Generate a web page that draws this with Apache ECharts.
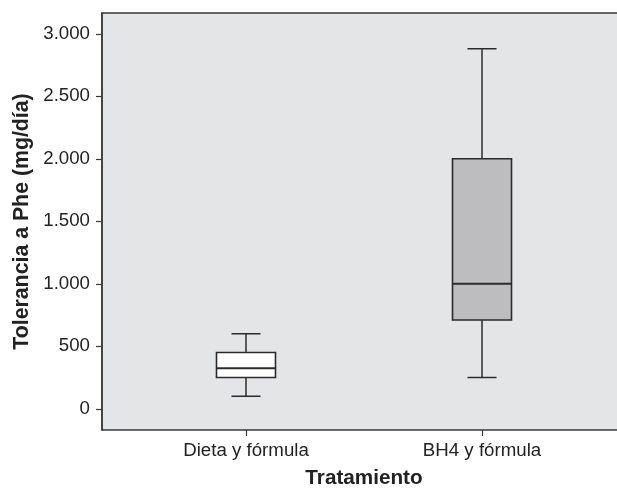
<!DOCTYPE html>
<html>
<head>
<meta charset="utf-8">
<script src="https://cdn.jsdelivr.net/npm/echarts@6/dist/echarts.min.js"></script>
<style>html,body{margin:0;padding:0;background:#fff}#c{width:617px;height:488px}</style>
</head>
<body>
<div id="c"></div>
<script>
// Data
const categories = ['Dieta y fórmula', 'BH4 y fórmula'];
// [min, Q1, median, Q3, max]
const boxMin    = [100, 250];
const boxQ1     = [250, 710];
const boxMedian = [325, 1000];
const boxQ3     = [450, 2000];
const boxMax    = [600, 2880];
const yTicks = [0, 500, 1000, 1500, 2000, 2500, 3000];
const yTitle = 'Tolerancia a Phe (mg/día)';
const xTitle = 'Tratamiento';

const fills = ['#ffffff', '#bdbdc0'];
const yMin = -170, yMax = 3166;

function fmt(v) {
  if (v >= 1000) return Math.floor(v / 1000) + '.' + String(v % 1000).padStart(3, '0');
  return String(v);
}

const seriesData = categories.map((c, i) => [i, boxMin[i], boxQ1[i], boxMedian[i], boxQ3[i], boxMax[i]]);

const stroke = '#2b2b2b';
function renderItem(params, api) {
  const idx = api.value(0);
  const band = api.size([1, 0])[0];
  const bw = band * 0.25, cw = band * 0.123;
  const pMin = api.coord([idx, api.value(1)]);
  const pQ1 = api.coord([idx, api.value(2)]);
  const pMed = api.coord([idx, api.value(3)]);
  const pQ3 = api.coord([idx, api.value(4)]);
  const pMax = api.coord([idx, api.value(5)]);
  const x = pMed[0];
  const ls = {stroke: stroke, lineWidth: 1.5};
  return {
    type: 'group',
    children: [
      {type: 'line', shape: {x1: x, y1: pMax[1], x2: x, y2: pQ3[1]}, style: ls},
      {type: 'line', shape: {x1: x, y1: pQ1[1], x2: x, y2: pMin[1]}, style: ls},
      {type: 'line', shape: {x1: x - cw / 2, y1: pMax[1], x2: x + cw / 2, y2: pMax[1]}, style: ls},
      {type: 'line', shape: {x1: x - cw / 2, y1: pMin[1], x2: x + cw / 2, y2: pMin[1]}, style: ls},
      {type: 'rect', shape: {x: x - bw / 2, y: pQ3[1], width: bw, height: pQ1[1] - pQ3[1]},
        style: {fill: fills[idx], stroke: stroke, lineWidth: 1.6}},
      {type: 'line', shape: {x1: x - bw / 2, y1: pMed[1], x2: x + bw / 2, y2: pMed[1]}, style: {stroke: stroke, lineWidth: 2}}
    ]
  };
}

const chart = echarts.init(document.getElementById('c'), null, {renderer: 'canvas'});
const font = 'Liberation Sans, Arial, Helvetica, sans-serif';
chart.setOption({
  animation: false,
  textStyle: {fontFamily: font},
  grid: [
    {left: 102, right: -3, top: 13, bottom: 58, show: true, backgroundColor: '#e4e5e7', borderColor: '#3a3a3a', borderWidth: 1.5, containLabel: false, outerBoundsMode: 'none'},
    {left: 128, width: 472, top: 13, bottom: 58, containLabel: false, outerBoundsMode: 'none'}
  ],
  xAxis: [
    {gridIndex: 0, type: 'value', min: 0, max: 1, show: false},
    {gridIndex: 1, type: 'category', data: categories, position: 'bottom',
      axisLine: {show: false, onZero: false},
      axisTick: {show: true, alignWithLabel: true, length: 6, lineStyle: {color: '#3a3a3a', width: 1.2}},
      axisLabel: {fontSize: 18.7, color: '#222', margin: 11, fontFamily: font},
      name: xTitle, nameLocation: 'middle', nameGap: 38,
      nameTextStyle: {fontSize: 20.7, fontWeight: 'bold', color: '#222', fontFamily: font}
    }
  ],
  yAxis: [
    {gridIndex: 0, type: 'value', min: yMin, max: yMax,
      axisLine: {show: true, lineStyle: {color: '#3a3a3a', width: 1.5}},
      axisTick: {show: true, length: 6, customValues: yTicks, lineStyle: {color: '#3a3a3a', width: 1.2}},
      axisLabel: {fontSize: 18.7, color: '#222', margin: 12, customValues: yTicks, formatter: fmt, fontFamily: font},
      splitLine: {show: false},
      name: yTitle, nameLocation: 'middle', nameGap: 66,
      nameTextStyle: {fontSize: 21.3, fontWeight: 'bold', color: '#222', fontFamily: font}
    },
    {gridIndex: 1, type: 'value', min: yMin, max: yMax, show: false}
  ],
  series: [
    {type: 'custom', xAxisIndex: 1, yAxisIndex: 1, renderItem: renderItem, data: seriesData, encode: {x: 0, y: [1, 2, 3, 4, 5]}}
  ]
});
</script>
</body>
</html>
